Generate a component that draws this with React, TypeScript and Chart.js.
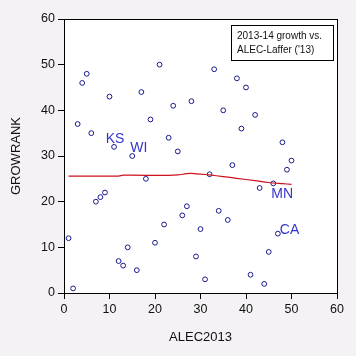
import React, { useEffect, useRef } from "react";
import { Chart, registerables } from "chart.js";
Chart.register(...registerables);

const alec2013 = [1, 2, 3, 4, 5, 6, 7, 8, 9, 10, 11, 12, 13, 14, 15, 16, 17, 18, 19, 20, 21, 22, 23, 24, 25, 26, 27, 28, 29, 30, 31, 32, 33, 34, 35, 36, 37, 38, 39, 40, 41, 42, 43, 44, 45, 46, 47, 48, 49, 50];
const growRank = [12, 1, 37, 46, 48, 35, 20, 21, 22, 43, 32, 7, 6, 10, 30, 5, 44, 25, 38, 11, 50, 15, 34, 41, 31, 17, 19, 42, 8, 14, 3, 26, 49, 18, 40, 16, 28, 47, 36, 45, 4, 39, 23, 2, 9, 24, 13, 33, 27, 29];

const fitX = [1, 12, 13, 23, 25, 27, 28, 29, 31, 32, 35, 38, 42, 45, 48, 50];
const fitY = [25.6, 25.6, 25.8, 25.75, 25.85, 26.15, 26.2, 26.1, 25.95, 25.85, 25.5, 25.1, 24.6, 24.2, 23.95, 23.8];

const stateLabels = ["KS", "WI", "MN", "CA"];
const stateX = [11, 15, 46, 47];
const stateY = [32, 30, 24, 13];

const legendLines = ["2013-14 growth vs.", "ALEC-Laffer ('13)"];
const xTitle = "ALEC2013";
const yTitle = "GROWRANK";
const axisMin = 0;
const axisMax = 60;
const axisStep = 10;

const FONT = "'Liberation Sans', Arial, sans-serif";
const PAGE_BG = "#f4f2f4";

const bgPlugin = {
  id: "bgPlugin",
  beforeDraw(chart: any) {
    const { ctx, chartArea, width, height } = chart;
    ctx.save();
    ctx.fillStyle = PAGE_BG;
    ctx.fillRect(0, 0, width, height);
    ctx.fillStyle = "#ffffff";
    ctx.fillRect(chartArea.left, chartArea.top, chartArea.right - chartArea.left, chartArea.bottom - chartArea.top);
    ctx.restore();
  },
  afterDraw(chart: any) {
    const { ctx, chartArea, scales } = chart;
    ctx.save();
    ctx.strokeStyle = "#000";
    ctx.lineWidth = 1;
    ctx.strokeRect(Math.round(chartArea.left) + 0.5, Math.round(chartArea.top) + 0.5, Math.round(chartArea.right - chartArea.left), Math.round(chartArea.bottom - chartArea.top));
    ctx.font = "14px " + FONT;
    ctx.fillStyle = "#3535cc";
    stateLabels.forEach((s, i) => {
      const px = scales.x.getPixelForValue(stateX[i]);
      const py = scales.y.getPixelForValue(stateY[i]);
      if (s === "KS") {
        ctx.textAlign = "center";
        ctx.textBaseline = "bottom";
        ctx.fillText(s, px + 1, py - 1);
      } else if (s === "WI") {
        ctx.textAlign = "left";
        ctx.textBaseline = "bottom";
        ctx.fillText(s, px - 2, py - 1);
      } else if (s === "MN") {
        ctx.textAlign = "left";
        ctx.textBaseline = "top";
        ctx.fillText(s, px - 2, py + 4);
      } else {
        ctx.textAlign = "left";
        ctx.textBaseline = "alphabetic";
        ctx.fillText(s, px + 2, py);
      }
    });
    const bw = 102, bh = 35;
    const bx = Math.round(chartArea.right) - 4 - bw;
    const by = Math.round(chartArea.top) + 6;
    ctx.fillStyle = "#fff";
    ctx.fillRect(bx, by, bw, bh);
    ctx.strokeStyle = "#000";
    ctx.strokeRect(bx + 0.5, by + 0.5, bw, bh);
    ctx.fillStyle = "#111";
    ctx.font = "10px " + FONT;
    ctx.textAlign = "left";
    ctx.textBaseline = "alphabetic";
    legendLines.forEach((t, i) => {
      ctx.fillText(t, bx + 6, by + 14 + i * 14);
    });
    ctx.restore();
  },
};

export default function App() {
  const ref = useRef<HTMLCanvasElement>(null);
  useEffect(() => {
    if (!ref.current) return;
    const scatter = alec2013.map((x, i) => ({ x, y: growRank[i] }));
    const fit = fitX.map((x, i) => ({ x, y: fitY[i] }));
    const tickFont = { family: FONT, size: 12.5 };
    const titleFont = { family: FONT, size: 13 };
    const chart = new Chart(ref.current, {
      type: "scatter",
      data: {
        datasets: [
          {
            type: "line",
            data: fit,
            borderColor: "#cc1020",
            borderWidth: 1.2,
            pointRadius: 0,
            tension: 0.3,
            fill: false,
          } as any,
          {
            type: "scatter",
            data: scatter,
            pointStyle: "circle",
            pointRadius: 2.4,
            borderWidth: 1,
            borderColor: "#1a1a8a",
            backgroundColor: "rgba(0,0,0,0)",
          },
        ],
      },
      options: {
        animation: false,
        responsive: false,
        events: [],
        layout: { padding: { top: 19, right: 19, left: 0, bottom: 0 } },
        plugins: { legend: { display: false }, tooltip: { enabled: false } },
        scales: {
          x: {
            type: "linear",
            min: axisMin,
            max: axisMax,
            ticks: { stepSize: axisStep, font: tickFont, color: "#111", padding: 3, maxRotation: 0 },
            grid: { drawOnChartArea: false, drawTicks: true, tickLength: 6, color: "#000" },
            border: { display: true, color: "#000", width: 1 },
            title: { display: true, text: xTitle, font: titleFont, color: "#111", padding: { top: 0, bottom: 11 } },
            afterFit: (s: any) => { s.height = 63; },
          },
          y: {
            type: "linear",
            min: axisMin,
            max: axisMax,
            ticks: { stepSize: axisStep, font: tickFont, color: "#111", padding: 3 },
            grid: { drawOnChartArea: false, drawTicks: true, tickLength: 6, color: "#000" },
            border: { display: true, color: "#000", width: 1 },
            title: { display: true, text: yTitle, font: titleFont, color: "#111", padding: { top: 9, bottom: 0 } },
            afterFit: (s: any) => { s.width = 64; },
          },
        },
      },
      plugins: [bgPlugin],
    });
    return () => chart.destroy();
  }, []);
  return (
    <div style={{ position: "fixed", left: 0, top: 0, width: 356, height: 356, background: PAGE_BG }}>
      <canvas ref={ref} width={356} height={356} style={{ display: "block", width: 356, height: 356 }} />
    </div>
  );
}
